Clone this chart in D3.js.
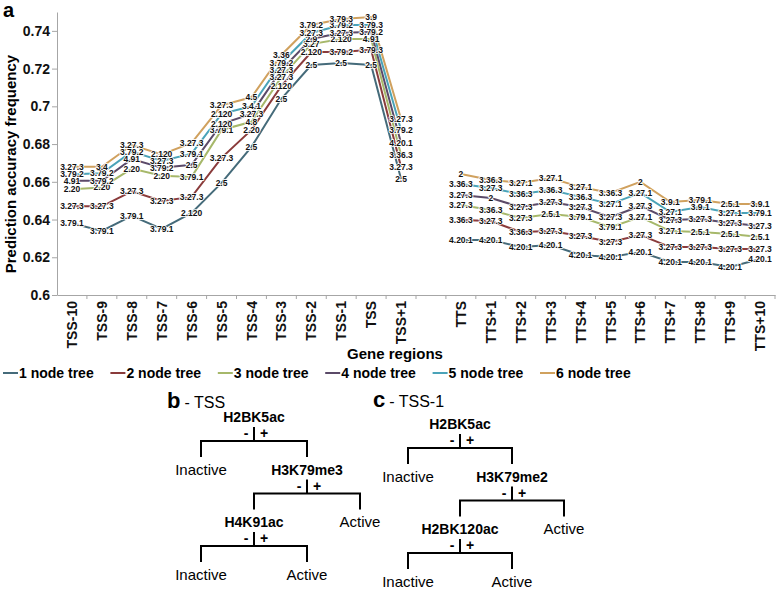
<!DOCTYPE html>
<html>
<head>
<meta charset="utf-8">
<script src="https://cdn.jsdelivr.net/npm/d3@7"></script>
<style>
  body { margin: 0; background: #fff; }
  text { font-family: Arial, "Liberation Sans", sans-serif; }
</style>
</head>
<body>
<div id="chart"></div>
<script>
var width = 778;
var height = 592;

// Categories on the x axis (blank one is the gap between TSS and TTS regions)
var categories = ["TSS-10", "TSS-9", "TSS-8", "TSS-7", "TSS-6", "TSS-5", "TSS-4", "TSS-3", "TSS-2", "TSS-1", "TSS", "TSS+1",
    " ", "TTS", "TTS+1", "TTS+2", "TTS+3", "TTS+4", "TTS+5", "TTS+6", "TTS+7", "TTS+8", "TTS+9", "TTS+10"];

var seriesNames = ["1 node tree", "2 node tree", "3 node tree", "4 node tree", "5 node tree", "6 node tree"];
var seriesColors = ["#456b7a", "#8a3b3b", "#a6b86a", "#5b4a68", "#4aa3b8", "#d0a15e"];

var yTicks = [0.6, 0.62, 0.64, 0.66, 0.68, 0.7, 0.72, 0.74];

// values per series, null = gap
var values1 = [0.638, 0.634, 0.642, 0.635, 0.6435, 0.6594, 0.6785, 0.704, 0.7219, 0.723, 0.7219, 0.6615,
    null, 0.6292, 0.6292, 0.6254, 0.6265, 0.6212, 0.6201, 0.6228, 0.6175, 0.6175, 0.6148, 0.6191];
var values2 = [0.647, 0.647, 0.655, 0.6498, 0.652, 0.6727, 0.6875, 0.7108, 0.7288, 0.7288, 0.73, 0.6678,
    null, 0.6398, 0.6392, 0.6334, 0.6339, 0.6313, 0.6281, 0.6318, 0.6254, 0.6254, 0.6244, 0.6244];
var values3 = [0.656, 0.657, 0.667, 0.6632, 0.6626, 0.6875, 0.6918, 0.7155, 0.733, 0.7357, 0.7357, 0.6742,
    null, 0.6477, 0.645, 0.6408, 0.6429, 0.6413, 0.636, 0.6413, 0.6339, 0.6334, 0.6323, 0.6307];
var values4 = [0.6605, 0.6605, 0.672, 0.6675, 0.669, 0.6907, 0.696, 0.7193, 0.7357, 0.739, 0.7394, 0.6806,
    null, 0.653, 0.6514, 0.6466, 0.6493, 0.6466, 0.6413, 0.6472, 0.6398, 0.6403, 0.6382, 0.6366];
var values5 = [0.664, 0.6645, 0.676, 0.671, 0.6749, 0.696, 0.7, 0.723, 0.7389, 0.7431, 0.7431, 0.6875,
    null, 0.6588, 0.6567, 0.6535, 0.6557, 0.652, 0.6482, 0.6541, 0.644, 0.6466, 0.6435, 0.6435];
var values6 = [0.668, 0.668, 0.6795, 0.6745, 0.6806, 0.7005, 0.7048, 0.7272, 0.7431, 0.7463, 0.7473, 0.6933,
    null, 0.6641, 0.661, 0.6594, 0.662, 0.6572, 0.6541, 0.66, 0.6493, 0.6504, 0.6482, 0.6482];

// data labels (best combination found at each region)
var labels1 = ["3.79.1", "3.79.1", "3.79.1", "3.79.1", "2.120", "2.5", "2.5", "2.5", "2.5", "2.5", "2.5", "2.5",
    null, "4.20.1", "4.20.1", "4.20.1", "4.20.1", "4.20.1", "4.20.1", "4.20.1", "4.20.1", "4.20.1", "4.20.1", "4.20.1"];
var labels2 = ["3.27.3", "3.27.3", "3.27.3", "3.27.3", "3.27.3", "3.27.3", "2.20", "2.120", "2.120", "3.79.2", "3.79.3", "3.27.3",
    null, "3.36.3", "3.27.3", "3.36.3", "3.27.3", "3.27.3", "3.27.3", "3.27.3", "3.27.3", "3.27.3", "3.27.3", "3.27.3"];
var labels3 = ["2.20", "2.20", "2.20", "2.20", "3.79.1", "3.79.1", "4.8", "3.27.3", "3.27", "2.120", "4.91", "3.36.3",
    null, "3.27.3", "3.36.3", "3.27.3", "2.5.1", "3.79.1", "3.79.1", "3.27.1", "3.27.1", "2.5.1", "2.5.1", "2.5.1"];
var labels4 = ["4.91", "3.79.2", "4.91", "3.79.2", "2.5", "2.120", "3.27.3", "3.27.3", "2.9", "3.27.3", "3.79.2", "4.20.1",
    null, "3.27.3", "2", "3.27.3", "3.27.3", "3.27.3", "3.27.3", "3.27.3", "3.27.3", "3.27.3", "3.27.3", "3.27.3"];
var labels5 = ["3.79.2", "3.79.2", "3.79.2", "3.27.3", "3.79.1", "2.120", "3.4.1", "3.79.2", "3.27.3", "3.79.2", "3.79.3", "3.79.2",
    null, "3.36.3", "3.27.3", "3.36.3", "3.36.3", "3.36.3", "3.27.1", "3.27.1", "3.27.1", "3.9.1", "3.27.1", "3.79.1"];
var labels6 = ["3.27.3", "3.4", "3.27.3", "2.120", "3.27.3", "3.27.3", "4.5", "3.36", "3.79.2", "3.79.3", "3.9", "3.27.3",
    null, "2", "3.36.3", "3.27.1", "3.27.1", "3.27.1", "3.36.3", "2", "3.9.1", "3.79.1", "2.5.1", "3.9.1"];

var allValues = [values1, values2, values3, values4, values5, values6];
var allLabels = [labels1, labels2, labels3, labels4, labels5, labels6];

// decision trees (b and c)
var treeB = { name: "H2BK5ac", children: [
    { name: "Inactive" },
    { name: "H3K79me3", children: [
        { name: "H4K91ac", children: [{ name: "Inactive" }, { name: "Active" }] },
        { name: "Active" }
    ]}
]};
var treeC = { name: "H2BK5ac", children: [
    { name: "Inactive" },
    { name: "H3K79me2", children: [
        { name: "H2BK120ac", children: [{ name: "Inactive" }, { name: "Active" }] },
        { name: "Active" }
    ]}
]};

var svg = d3.select("#chart").append("svg")
    .attr("width", width)
    .attr("height", height);

var yScale = d3.scaleLinear().domain([0.6, 0.75]).range([295, 12]);
var xScale = d3.scaleBand().domain(categories).range([57, 775]);

var axisColor = "#a6a6a6";

// y axis
var yAxisG = svg.append("g")
    .attr("transform", "translate(57,0)")
    .call(d3.axisLeft(yScale).tickValues(yTicks).tickSize(5).tickSizeOuter(0)
        .tickFormat(function(d) { return String(+d.toFixed(2)); }));
yAxisG.select(".domain").attr("stroke", axisColor);
yAxisG.selectAll(".tick line").attr("stroke", axisColor);
yAxisG.selectAll(".tick text")
    .attr("font-size", 14).attr("font-weight", "bold").attr("fill", "#111")
    .attr("font-family", "Arial, 'Liberation Sans', sans-serif")
    .attr("x", -7);

// x axis
var xAxisG = svg.append("g")
    .attr("transform", "translate(0,295)")
    .call(d3.axisBottom(xScale).tickSize(0).tickSizeOuter(0));
xAxisG.select(".domain").attr("stroke", axisColor);
xAxisG.selectAll(".tick text")
    .attr("font-size", 14).attr("font-weight", "bold").attr("fill", "#111")
    .attr("font-family", "Arial, 'Liberation Sans', sans-serif")
    .attr("transform", "rotate(-90)")
    .attr("text-anchor", "end")
    .attr("x", -6)
    .attr("y", 0)
    .attr("dy", "0.36em");

// boundary ticks between categories
svg.append("g").selectAll("line")
    .data(categories.slice(1).concat(["__end"]))
    .enter().append("line")
    .attr("x1", function(d, i) { return i < categories.length - 1 ? xScale(d) : xScale.range()[1]; })
    .attr("x2", function(d, i) { return i < categories.length - 1 ? xScale(d) : xScale.range()[1]; })
    .attr("y1", 295).attr("y2", 299)
    .attr("stroke", axisColor);

// panel label a
svg.append("text").attr("x", 3).attr("y", 17)
    .attr("font-size", 20).attr("font-weight", "bold").text("a");

// axis titles
svg.append("text")
    .attr("transform", "translate(16,164) rotate(-90)")
    .attr("text-anchor", "middle")
    .attr("font-size", 15).attr("font-weight", "bold")
    .text("Prediction accuracy frequency");

svg.append("text")
    .attr("x", 395).attr("y", 359)
    .attr("text-anchor", "middle")
    .attr("font-size", 15).attr("font-weight", "bold")
    .text("Gene regions");

// lines
var line = d3.line()
    .defined(function(d) { return d != null; })
    .x(function(d, i) { return xScale(categories[i]) + xScale.bandwidth() / 2; })
    .y(function(d) { return yScale(d); });

svg.append("g").selectAll("path")
    .data(allValues)
    .enter().append("path")
    .attr("d", line)
    .attr("fill", "none")
    .attr("stroke", function(d, i) { return seriesColors[i]; })
    .attr("stroke-width", 2);

// data labels
allValues.forEach(function(vals, s) {
    var pts = [];
    vals.forEach(function(v, i) {
        if (v != null) pts.push({ v: v, i: i, label: allLabels[s][i] });
    });
    svg.append("g").selectAll("text")
        .data(pts)
        .enter().append("text")
        .attr("x", function(d) { return xScale(categories[d.i]) + xScale.bandwidth() / 2; })
        .attr("y", function(d) { return yScale(d.v); })
        .attr("dy", "0.35em")
        .attr("text-anchor", "middle")
        .attr("font-size", 8.5)
        .attr("font-weight", "bold")
        .attr("fill", "#111")
        .attr("stroke", "#fff")
        .attr("stroke-width", 1.6)
        .attr("paint-order", "stroke")
        .text(function(d) { return d.label; });
});

// legend
var legend = svg.append("g").selectAll("g")
    .data(seriesNames)
    .enter().append("g")
    .attr("transform", function(d, i) { return "translate(" + (3 + i * 107.4) + ",373)"; });
legend.append("line")
    .attr("x1", 0).attr("x2", 15).attr("y1", 0).attr("y2", 0)
    .attr("stroke", function(d, i) { return seriesColors[i]; })
    .attr("stroke-width", 2);
legend.append("text")
    .attr("x", 16).attr("y", 5)
    .attr("font-size", 14).attr("font-weight", "bold")
    .text(function(d) { return d; });

// trees
function drawTree(node, cx, by, half, step) {
    var g = svg.append("g");
    g.append("text")
        .attr("x", cx).attr("y", by)
        .attr("text-anchor", "middle")
        .attr("font-size", node.children ? 14 : 15)
        .attr("font-weight", node.children ? "bold" : "normal")
        .text(node.name);
    if (!node.children) return;
    g.append("text").attr("x", cx - 8).attr("y", by + 16).attr("text-anchor", "middle")
        .attr("font-size", 14).attr("font-weight", "bold").text("-");
    g.append("text").attr("x", cx + 10).attr("y", by + 16).attr("text-anchor", "middle")
        .attr("font-size", 14).attr("font-weight", "bold").text("+");
    g.append("path")
        .attr("d", "M" + cx + "," + (by + 5) + "V" + (by + 19)
            + "M" + (cx - half) + "," + (by + 35) + "V" + (by + 19) + "H" + (cx + half) + "V" + (by + 35))
        .attr("fill", "none").attr("stroke", "#000").attr("stroke-width", 2);
    drawTree(node.children[0], cx - half, by + step, half, step);
    drawTree(node.children[1], cx + half, by + step, half, step);
}

var titleB = svg.append("text").attr("x", 167).attr("y", 408);
titleB.append("tspan").attr("font-size", 22).attr("font-weight", "bold").text("b");
titleB.append("tspan").attr("font-size", 16).attr("dx", 4).text("- TSS");
drawTree(treeB, 254, 422, 53, 52.5);

var titleC = svg.append("text").attr("x", 373).attr("y", 407);
titleC.append("tspan").attr("font-size", 22).attr("font-weight", "bold").text("c");
titleC.append("tspan").attr("font-size", 16).attr("dx", 4).text("- TSS-1");
drawTree(treeC, 460, 429, 52, 52.5);
</script>
</body>
</html>
